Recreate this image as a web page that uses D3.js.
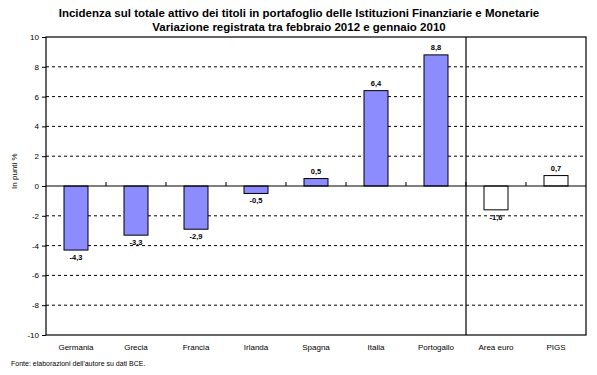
<!DOCTYPE html>
<html>
<head>
<meta charset="utf-8">
<script src="https://cdn.jsdelivr.net/npm/d3@7"></script>
<style>
  body { margin: 0; background: #fff; }
  svg text { font-family: "Liberation Sans", Arial, sans-serif; }
</style>
</head>
<body>
<svg id="chart" width="597" height="375"></svg>
<script>
// data
const categories = ["Germania", "Grecia", "Francia", "Irlanda", "Spagna", "Italia", "Portogallo", "Area euro", "PIGS"];
const values = [-4.3, -3.3, -2.9, -0.5, 0.5, 6.4, 8.8, -1.6, 0.7];
const groups = ["paese", "paese", "paese", "paese", "paese", "paese", "paese", "aggregato", "aggregato"];
const yTicks = [-10, -8, -6, -4, -2, 0, 2, 4, 6, 8, 10];

const svg = d3.select("#chart");
const margin = { top: 37, right: 11, bottom: 40, left: 46 };
const width = 597 - margin.left - margin.right;
const height = 375 - margin.top - margin.bottom;

const g = svg.append("g").attr("transform", "translate(" + margin.left + "," + margin.top + ")");

const x = d3.scaleBand().domain(categories).range([0, width]);
const y = d3.scaleLinear().domain([-10, 10]).range([height, 0]);
const fmt = d => d3.format(".1f")(d).replace(".", ",").replace("−", "-");

// title
svg.append("text").attr("x", 299).attr("y", 17).attr("text-anchor", "middle")
    .style("font-weight", "bold").style("font-size", "11.5px")
    .text("Incidenza sul totale attivo dei titoli in portafoglio delle Istituzioni Finanziarie e Monetarie");
svg.append("text").attr("x", 299).attr("y", 31).attr("text-anchor", "middle")
    .style("font-weight", "bold").style("font-size", "11.5px")
    .text("Variazione registrata tra febbraio 2012 e gennaio 2010");

// dashed grid
g.selectAll(".grid").data(yTicks.filter(d => d !== 0 && Math.abs(d) !== 10)).enter()
    .append("line").attr("class", "grid")
    .attr("x1", 0).attr("x2", width)
    .attr("y1", d => y(d)).attr("y2", d => y(d))
    .attr("stroke", "#000").attr("stroke-width", 1).attr("stroke-dasharray", "3,3");

// y axis
const yAxis = g.append("g").call(d3.axisLeft(y).tickValues(yTicks).tickSize(4).tickFormat(d => d));
yAxis.select(".domain").remove();
yAxis.selectAll("line").attr("stroke", "#000");
yAxis.selectAll("text").style("font-size", "8px").attr("x", -7);

// bars
g.selectAll(".bar").data(values).enter().append("rect").attr("class", "bar")
    .attr("x", (d, i) => x(categories[i]) + x.bandwidth() / 2 - 12)
    .attr("width", 24)
    .attr("y", d => y(Math.max(0, d)))
    .attr("height", d => Math.abs(y(d) - y(0)))
    .attr("fill", (d, i) => groups[i] === "paese" ? "#8c8cff" : "#fff")
    .attr("stroke", "#000").attr("stroke-width", 1);

// value labels
g.selectAll(".val").data(values).enter().append("text").attr("class", "val")
    .attr("x", (d, i) => x(categories[i]) + x.bandwidth() / 2)
    .attr("y", d => d >= 0 ? y(d) - 5 : y(d) + 10)
    .attr("text-anchor", "middle")
    .style("font-size", "7.5px").style("font-weight", "bold")
    .text(d => fmt(d));

// plot frame
g.append("rect").attr("x", 0).attr("y", 0).attr("width", width).attr("height", height)
    .attr("fill", "none").attr("stroke", "#000").attr("stroke-width", 1.2);

// zero line and ticks between categories
g.append("line").attr("x1", 0).attr("x2", width).attr("y1", y(0)).attr("y2", y(0))
    .attr("stroke", "#000").attr("stroke-width", 1.2);
g.selectAll(".xtick").data(categories.slice(1)).enter().append("line").attr("class", "xtick")
    .attr("x1", d => x(d)).attr("x2", d => x(d))
    .attr("y1", y(0)).attr("y2", y(0) - 4)
    .attr("stroke", "#000");

// separator between countries and aggregates
g.append("line").attr("x1", x("Area euro")).attr("x2", x("Area euro"))
    .attr("y1", 0).attr("y2", height).attr("stroke", "#000").attr("stroke-width", 1.2);

// category labels
g.selectAll(".cat").data(categories).enter().append("text").attr("class", "cat")
    .attr("x", d => x(d) + x.bandwidth() / 2)
    .attr("y", height + 15)
    .attr("text-anchor", "middle")
    .style("font-size", "8px")
    .text(d => d);

// y label
svg.append("text").attr("transform", "translate(17," + (margin.top + y(1)) + ") rotate(-90)")
    .attr("text-anchor", "middle").style("font-size", "8px")
    .text("In punti %");

// source
svg.append("text").attr("x", 11).attr("y", 366).style("font-size", "7px")
    .text("Fonte: elaborazioni dell'autore su dati BCE.");
</script>
</body>
</html>
